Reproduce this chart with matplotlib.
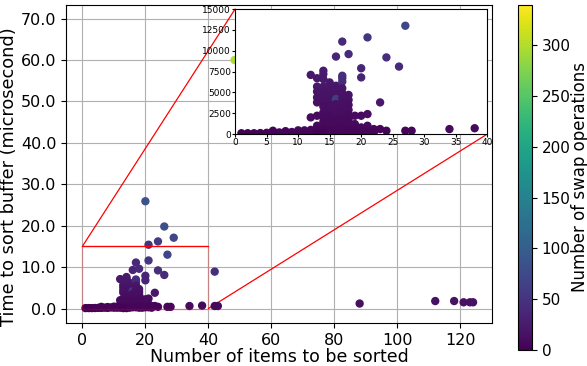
import numpy as np
import matplotlib
matplotlib.use('Agg')
import matplotlib.pyplot as plt
from matplotlib.patches import Rectangle, ConnectionPatch
from matplotlib.ticker import FormatStrFormatter

# number of items in the buffer, sort time (ns) and swap count for each run
n_items = [1, 2, 3, 4, 5, 6, 6, 7, 8, 8, 9, 10, 10, 11, 11,
           12, 12, 12, 12,
           13, 13, 13, 13, 13, 13, 13, 13, 13, 13,
           14, 14, 14, 14, 14, 14, 14, 14, 14, 14, 14, 14, 14, 14, 14,
           15, 15, 15, 15, 15, 15, 15, 15, 15, 15, 15, 15,
           16, 16, 16, 16, 16, 16, 16, 16, 16, 16, 16, 16,
           17, 17, 17, 17, 17, 17, 17, 17, 17, 17, 17, 17, 17, 17,
           18, 18, 18, 18, 18, 18, 18, 18, 18, 18,
           19, 19, 19, 19,
           20, 20, 20, 20, 20, 20,
           21, 21, 21, 21, 21,
           22, 22, 23, 23, 24, 24, 24, 26, 26, 27, 27, 28, 29,
           34, 38, 42, 42, 43, 48.3, 88, 112, 118, 121, 123, 124]
time_ns = [100, 100, 100, 120, 150, 400, 150, 200, 350, 150, 250, 450, 200, 450, 200,
           7100, 2000, 500, 200,
           6700, 5700, 5100, 4400, 3800, 2200, 1000, 600, 300, 100,
           7600, 7200, 6600, 5700, 5100, 4500, 3900, 3300, 2600, 2000, 1500, 1000, 600, 300, 100,
           6200, 5700, 5200, 4600, 4000, 3400, 2800, 2200, 1600, 1000, 500, 200,
           9300, 5800, 5300, 4800, 4200, 3600, 3000, 2400, 1800, 1200, 700, 300,
           11100, 7000, 6700, 6300, 5500, 4900, 4300, 3700, 3100, 2500, 1900, 1300, 800, 300,
           9600, 4700, 4100, 3500, 2900, 2300, 1700, 1100, 600, 200,
           2200, 1200, 600, 200,
           25900, 7900, 6800, 2200, 800, 300,
           15400, 11600, 2400, 1000, 300,
           600, 200, 3800, 600, 16200, 9200, 400, 19800, 8100, 13000, 400, 400, 17100,
           600, 700, 8900, 600, 600, 60000, 1200, 1800, 1800, 1500, 1500, 1500]
swaps = [1, 1, 2, 2, 3, 5, 3, 4, 6, 3, 5, 8, 4, 8, 4,
         22, 10, 6, 4,
         22, 20, 18, 16, 14, 10, 8, 6, 4, 2,
         25, 24, 22, 20, 18, 16, 15, 13, 11, 10, 9, 8, 6, 4, 2,
         22, 20, 18, 17, 15, 13, 12, 10, 9, 8, 6, 4,
         35, 20, 19, 17, 60, 14, 12, 11, 9, 8, 6, 4,
         38, 45, 44, 42, 20, 18, 16, 14, 12, 11, 9, 8, 6, 4,
         40, 17, 15, 13, 12, 10, 9, 8, 6, 4,
         10, 8, 6, 4,
         85, 36, 34, 10, 7, 4,
         50, 52, 11, 8, 4,
         6, 4, 22, 6, 58, 45, 5, 80, 40, 70, 5, 5, 72,
         8, 9, 45, 8, 8, 300, 12, 15, 15, 15, 15, 15]

time_us = np.array(time_ns) / 1000.0

fig = plt.figure(figsize=(5.87, 3.66), dpi=100)
ax = fig.add_axes([0.1124, 0.1175, 0.7257, 0.869])
cax = fig.add_axes([0.882, 0.0437, 0.024, 0.943])

sc = ax.scatter(n_items, time_us, c=swaps, cmap='viridis', vmin=0, vmax=340, s=25, zorder=3)
ax.set_xlim(-5.2, 130)
ax.set_ylim(-3.5, 73.3)
ax.set_xticks(np.arange(0, 121, 20))
ax.set_yticks(np.arange(0, 71, 10))
ax.yaxis.set_major_formatter(FormatStrFormatter('%.1f'))
ax.grid(True, zorder=0)
ax.set_axisbelow(True)
ax.tick_params(labelsize=11.5)
ax.set_xlabel('Number of items to be sorted', fontsize=12.5, labelpad=0)
ax.set_ylabel('Time to sort buffer (microsecond)', fontsize=12.8, labelpad=2, y=0.46)

# zoom region
ax.add_patch(Rectangle((0, 0), 40, 15, fill=False, edgecolor='red', alpha=0.25, lw=1, zorder=4))
ax.plot([0, 40], [15, 15], color='red', lw=0.9, zorder=4)

axins = ax.inset_axes([0.397, 0.594, 0.592, 0.393])
axins.scatter(n_items, time_ns, c=swaps, cmap='viridis', vmin=0, vmax=340, s=25)
axins.set_xlim(0, 40)
axins.set_ylim(0, 15000)
axins.set_xticks(np.arange(0, 41, 5))
axins.set_yticks(np.arange(0, 15001, 2500))
axins.tick_params(labelsize=6.5, length=2, pad=1)

for xy_main, xy_ins in [((0, 15), (0, 1)), ((40, 0), (1, 0))]:
    con = ConnectionPatch(xyA=xy_main, coordsA=ax.transData, xyB=xy_ins, coordsB=axins.transAxes,
                          color='red', lw=0.9)
    ax.add_artist(con)

cb = fig.colorbar(sc, cax=cax)
cb.set_ticks(np.arange(0, 301, 50))
cb.ax.tick_params(labelsize=11)
cb.set_label('Number of swap operations', fontsize=12, labelpad=0)

fig.savefig('out.png', dpi=100)
